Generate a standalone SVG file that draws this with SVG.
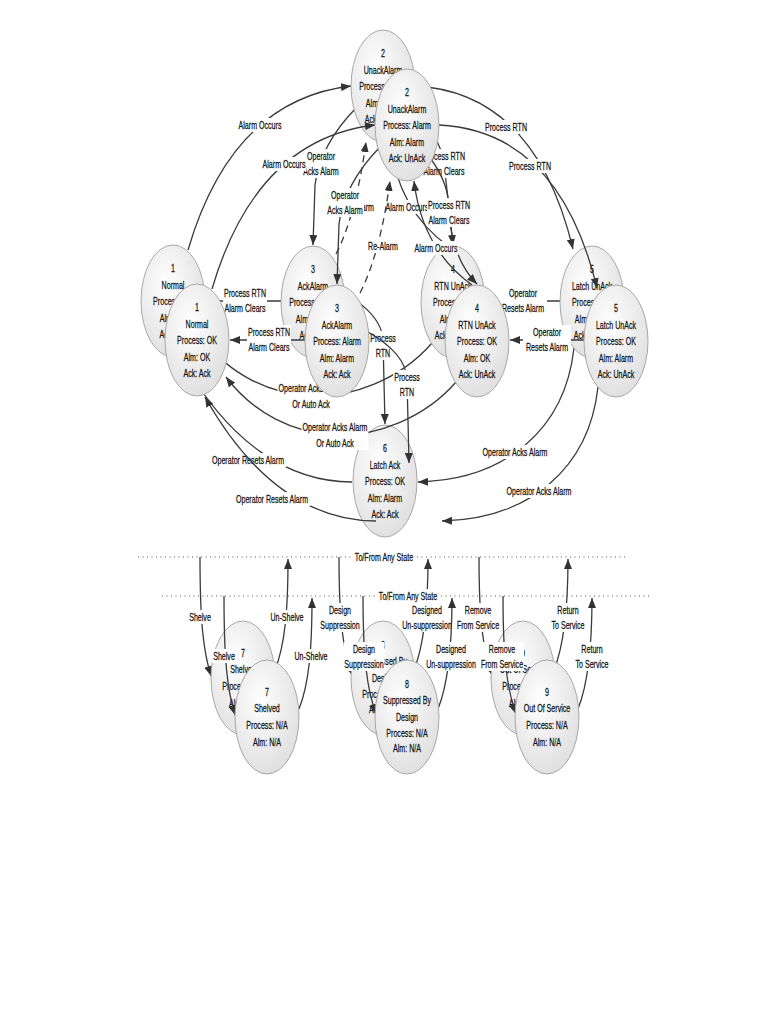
<svg xmlns="http://www.w3.org/2000/svg" width="768" height="1024" viewBox="0 0 768 1024">
<defs>
<radialGradient id="ng" cx="0.4" cy="0.35" r="0.75"><stop offset="0" stop-color="#ffffff"/><stop offset="1" stop-color="#dcdcdc"/></radialGradient>
<marker id="ah" viewBox="0 0 10 8" refX="10" refY="4" markerWidth="10" markerHeight="8" markerUnits="userSpaceOnUse" orient="auto"><path d="M0,0 L10,4 L0,8 z" fill="#333"/></marker>
<style>
.c{fill:none;stroke:#3a3a3a;stroke-width:1.3;marker-end:url(#ah)}
.d{stroke-dasharray:7 5}
.dot{fill:none;stroke:#555;stroke-width:1;stroke-dasharray:1 3.5}
.n ellipse{fill:url(#ng);stroke:#a8a8a8;stroke-width:1}
.t{font-family:"Liberation Sans",Arial,sans-serif;font-size:11px;fill:#111;stroke:#111;stroke-width:.25;text-anchor:middle}
.lb{fill:#fff}
</style>
</defs>
<rect width="768" height="1024" fill="#fff"/>

<g id="copy-back">
<g id="connectors-back">
<path class="c" d="M 188 250 Q 232 100 351 86"/>
<path class="c" d="M 415 86 Q 535 92 573 249"/>
<path class="c" d="M 356 108 Q 320 145 315 185 L 313 245"/>
<path class="c d" d="M 336 254 Q 356 215 366 142"/>
<path class="c" d="M 448 246 Q 398 210 390 142"/>
<path class="c" d="M 412 113 Q 440 135 444 163 L 453 245"/>
<path class="c" d="M 281 301 L 206 301"/>
<path class="c" d="M 344 293 C 365 305 382 320 383 340 L 385 424"/>
<path class="c" d="M 432 343 C 400 380 350 398 311 396 C 270 394 230 375 202 338"/>
<path class="c" d="M 560 301 L 486 301"/>
<path class="c" d="M 574 348 C 565 430 505 480 418 482"/>
<path class="c" d="M 352 482 C 290 482 230 445 181 358"/>
<path class="dot" d="M 138 557 H 626"/>
<path class="c" d="M 200 557 C 200 620 203 650 211 676"/>
<path class="c" d="M 275 670 C 285 645 288 610 288 559"/>
<path class="c" d="M 339 557 C 339 620 343 650 352 675"/>
<path class="c" d="M 414 670 C 424 645 428 610 428 559"/>
<path class="c" d="M 479 557 C 479 620 483 650 492 675"/>
<path class="c" d="M 554 670 C 564 645 568 610 568 559"/>
</g>
<g id="labels-back">
<rect class="lb" x="237.5" y="118" width="45" height="14"/><text class="t" transform="translate(260 129) scale(.645 1)">Alarm Occurs</text>
<rect class="lb" x="484" y="120" width="44" height="14"/><text class="t" transform="translate(506 131) scale(.645 1)">Process RTN</text>
<rect class="lb" x="302" y="149" width="38" height="29"/><text class="t" transform="translate(321 160) scale(.645 1)">Operator</text><text class="t" transform="translate(321 175) scale(.645 1)">Acks Alarm</text>
<rect class="lb" x="343" y="200" width="32" height="14"/><text class="t" transform="translate(359 211) scale(.645 1)">Re-Alarm</text>
<rect class="lb" x="384.5" y="200" width="45" height="14"/><text class="t" transform="translate(407 211) scale(.645 1)">Alarm Occurs</text>
<rect class="lb" x="422" y="149" width="44" height="29"/><text class="t" transform="translate(444 160) scale(.645 1)">Process RTN</text><text class="t" transform="translate(444 175) scale(.645 1)">Alarm Clears</text>
<rect class="lb" x="223" y="286" width="44" height="29"/><text class="t" transform="translate(245 297) scale(.645 1)">Process RTN</text><text class="t" transform="translate(245 312) scale(.645 1)">Alarm Clears</text>
<rect class="lb" x="369" y="331" width="28" height="29"/><text class="t" transform="translate(383 342) scale(.645 1)">Process</text><text class="t" transform="translate(383 357) scale(.645 1)">RTN</text>
<rect class="lb" x="277.5" y="381" width="67" height="30"/><text class="t" transform="translate(311 392) scale(.645 1)">Operator Acks Alarm</text><text class="t" transform="translate(311 408) scale(.645 1)">Or Auto Ack</text>
<rect class="lb" x="499" y="286" width="48" height="29"/><text class="t" transform="translate(523 297) scale(.645 1)">Operator</text><text class="t" transform="translate(523 312) scale(.645 1)">Resets Alarm</text>
<rect class="lb" x="481.5" y="445" width="67" height="14"/><text class="t" transform="translate(515 456) scale(.645 1)">Operator Acks Alarm</text>
<rect class="lb" x="209.5" y="453" width="77" height="14"/><text class="t" transform="translate(248 464) scale(.645 1)">Operator Resets Alarm</text>
<rect class="lb" x="353.5" y="550" width="61" height="14"/><text class="t" transform="translate(384 561) scale(.645 1)">To/From Any State</text>
<rect class="lb" x="188" y="610" width="24" height="14"/><text class="t" transform="translate(200 621) scale(.645 1)">Shelve</text>
<rect class="lb" x="269.5" y="610" width="35" height="14"/><text class="t" transform="translate(287 621) scale(.645 1)">Un-Shelve</text>
<rect class="lb" x="319.5" y="603" width="41" height="29"/><text class="t" transform="translate(340 614) scale(.645 1)">Design</text><text class="t" transform="translate(340 629) scale(.645 1)">Suppression</text>
<rect class="lb" x="401.5" y="603" width="51" height="29"/><text class="t" transform="translate(427 614) scale(.645 1)">Designed</text><text class="t" transform="translate(427 629) scale(.645 1)">Un-suppression</text>
<rect class="lb" x="456" y="603" width="44" height="29"/><text class="t" transform="translate(478 614) scale(.645 1)">Remove</text><text class="t" transform="translate(478 629) scale(.645 1)">From Service</text>
<rect class="lb" x="550" y="603" width="36" height="29"/><text class="t" transform="translate(568 614) scale(.645 1)">Return</text><text class="t" transform="translate(568 629) scale(.645 1)">To Service</text>
</g>
<g id="b1" class="n" transform="translate(173 301)"><ellipse rx="32" ry="56"/><text class="t" transform="translate(0 -29) scale(.645 1)">1</text><text class="t" transform="translate(0 -12.5) scale(.645 1)">Normal</text><text class="t" transform="translate(0 4) scale(.645 1)">Process: OK</text><text class="t" transform="translate(0 20.5) scale(.645 1)">Alm: OK</text><text class="t" transform="translate(0 37) scale(.645 1)">Ack: Ack</text></g>
<g id="b2" class="n" transform="translate(383 86)"><ellipse rx="32" ry="56"/><text class="t" transform="translate(0 -29) scale(.645 1)">2</text><text class="t" transform="translate(0 -12.5) scale(.645 1)">UnackAlarm</text><text class="t" transform="translate(0 4) scale(.645 1)">Process: Alarm</text><text class="t" transform="translate(0 20.5) scale(.645 1)">Alm: Alarm</text><text class="t" transform="translate(0 37) scale(.645 1)">Ack: UnAck</text></g>
<g id="b3" class="n" transform="translate(313 302)"><ellipse rx="32" ry="56"/><text class="t" transform="translate(0 -29) scale(.645 1)">3</text><text class="t" transform="translate(0 -12.5) scale(.645 1)">AckAlarm</text><text class="t" transform="translate(0 4) scale(.645 1)">Process: Alarm</text><text class="t" transform="translate(0 20.5) scale(.645 1)">Alm: Alarm</text><text class="t" transform="translate(0 37) scale(.645 1)">Ack: Ack</text></g>
<g id="b4" class="n" transform="translate(453 302)"><ellipse rx="32" ry="56"/><text class="t" transform="translate(0 -29) scale(.645 1)">4</text><text class="t" transform="translate(0 -12.5) scale(.645 1)">RTN UnAck</text><text class="t" transform="translate(0 4) scale(.645 1)">Process: OK</text><text class="t" transform="translate(0 20.5) scale(.645 1)">Alm: OK</text><text class="t" transform="translate(0 37) scale(.645 1)">Ack: UnAck</text></g>
<g id="b5" class="n" transform="translate(592 302)"><ellipse rx="32" ry="56"/><text class="t" transform="translate(0 -29) scale(.645 1)">5</text><text class="t" transform="translate(0 -12.5) scale(.645 1)">Latch UnAck</text><text class="t" transform="translate(0 4) scale(.645 1)">Process: OK</text><text class="t" transform="translate(0 20.5) scale(.645 1)">Alm: Alarm</text><text class="t" transform="translate(0 37) scale(.645 1)">Ack: UnAck</text></g>
<g id="b6" class="n" transform="translate(385 481)"><ellipse rx="32" ry="56"/><text class="t" transform="translate(0 -29) scale(.645 1)">6</text><text class="t" transform="translate(0 -12.5) scale(.645 1)">Latch Ack</text><text class="t" transform="translate(0 4) scale(.645 1)">Process: OK</text><text class="t" transform="translate(0 20.5) scale(.645 1)">Alm: Alarm</text><text class="t" transform="translate(0 37) scale(.645 1)">Ack: Ack</text></g>
<g id="b7" class="n" transform="translate(243 678)"><ellipse rx="32" ry="57"/><text class="t" transform="translate(0 -21) scale(.645 1)">7</text><text class="t" transform="translate(0 -5) scale(.645 1)">Shelved</text><text class="t" transform="translate(0 12) scale(.645 1)">Process: N/A</text><text class="t" transform="translate(0 29) scale(.645 1)">Alm: N/A</text></g>
<g id="b8" class="n" transform="translate(383 678)"><ellipse rx="32" ry="57"/><text class="t" transform="translate(0 -29) scale(.645 1)">8</text><text class="t" transform="translate(0 -13) scale(.645 1)">Suppressed By</text><text class="t" transform="translate(0 4) scale(.645 1)">Design</text><text class="t" transform="translate(0 20) scale(.645 1)">Process: N/A</text><text class="t" transform="translate(0 35) scale(.645 1)">Alm: N/A</text></g>
<g id="b9" class="n" transform="translate(523 678)"><ellipse rx="32" ry="57"/><text class="t" transform="translate(0 -21) scale(.645 1)">9</text><text class="t" transform="translate(0 -5) scale(.645 1)">Out Of Service</text><text class="t" transform="translate(0 12) scale(.645 1)">Process: N/A</text><text class="t" transform="translate(0 29) scale(.645 1)">Alm: N/A</text></g>
</g>

<g id="copy-front" transform="translate(24 39)">
<g id="connectors-front">
<path class="c" d="M 188 250 Q 232 100 351 86"/>
<path class="c" d="M 415 86 Q 535 92 573 249"/>
<path class="c" d="M 356 108 Q 320 145 315 185 L 313 245"/>
<path class="c d" d="M 336 254 Q 356 215 366 142"/>
<path class="c" d="M 448 246 Q 398 210 390 142"/>
<path class="c" d="M 406 119 Q 423 141 425 166 L 426 183 Q 431 223 453 245"/>
<path class="c" d="M 281 301 L 206 301"/>
<path class="c" d="M 344 293 C 365 305 382 320 383 340 L 385 424"/>
<path class="c" d="M 432 343 C 400 380 350 398 311 396 C 270 394 230 375 202 338"/>
<path class="c" d="M 560 301 L 486 301"/>
<path class="c" d="M 574 348 C 565 430 505 480 418 482"/>
<path class="c" d="M 352 482 C 290 482 230 445 181 358"/>
<path class="dot" d="M 138 557 H 626"/>
<path class="c" d="M 200 557 C 200 620 203 650 211 676"/>
<path class="c" d="M 275 670 C 285 645 288 610 288 559"/>
<path class="c" d="M 339 557 C 339 620 343 650 352 675"/>
<path class="c" d="M 414 670 C 424 645 428 610 428 559"/>
<path class="c" d="M 479 557 C 479 620 483 650 492 675"/>
<path class="c" d="M 554 670 C 564 645 568 610 568 559"/>
</g>
<g id="labels-front">
<rect class="lb" x="237.5" y="118" width="45" height="14"/><text class="t" transform="translate(260 129) scale(.645 1)">Alarm Occurs</text>
<rect class="lb" x="484" y="120" width="44" height="14"/><text class="t" transform="translate(506 131) scale(.645 1)">Process RTN</text>
<rect class="lb" x="302" y="149" width="38" height="29"/><text class="t" transform="translate(321 160) scale(.645 1)">Operator</text><text class="t" transform="translate(321 175) scale(.645 1)">Acks Alarm</text>
<rect class="lb" x="343" y="200" width="32" height="14"/><text class="t" transform="translate(359 211) scale(.645 1)">Re-Alarm</text>
<rect class="lb" x="389.5" y="202" width="45" height="14"/><text class="t" transform="translate(412 213) scale(.645 1)">Alarm Occurs</text>
<rect class="lb" x="403" y="159" width="44" height="29"/><text class="t" transform="translate(425 170) scale(.645 1)">Process RTN</text><text class="t" transform="translate(425 185) scale(.645 1)">Alarm Clears</text>
<rect class="lb" x="223" y="286" width="44" height="29"/><text class="t" transform="translate(245 297) scale(.645 1)">Process RTN</text><text class="t" transform="translate(245 312) scale(.645 1)">Alarm Clears</text>
<rect class="lb" x="369" y="331" width="28" height="29"/><text class="t" transform="translate(383 342) scale(.645 1)">Process</text><text class="t" transform="translate(383 357) scale(.645 1)">RTN</text>
<rect class="lb" x="277.5" y="381" width="67" height="30"/><text class="t" transform="translate(311 392) scale(.645 1)">Operator Acks Alarm</text><text class="t" transform="translate(311 408) scale(.645 1)">Or Auto Ack</text>
<rect class="lb" x="499" y="286" width="48" height="29"/><text class="t" transform="translate(523 297) scale(.645 1)">Operator</text><text class="t" transform="translate(523 312) scale(.645 1)">Resets Alarm</text>
<rect class="lb" x="481.5" y="445" width="67" height="14"/><text class="t" transform="translate(515 456) scale(.645 1)">Operator Acks Alarm</text>
<rect class="lb" x="209.5" y="453" width="77" height="14"/><text class="t" transform="translate(248 464) scale(.645 1)">Operator Resets Alarm</text>
<rect class="lb" x="353.5" y="550" width="61" height="14"/><text class="t" transform="translate(384 561) scale(.645 1)">To/From Any State</text>
<rect class="lb" x="188" y="610" width="24" height="14"/><text class="t" transform="translate(200 621) scale(.645 1)">Shelve</text>
<rect class="lb" x="269.5" y="610" width="35" height="14"/><text class="t" transform="translate(287 621) scale(.645 1)">Un-Shelve</text>
<rect class="lb" x="319.5" y="603" width="41" height="29"/><text class="t" transform="translate(340 614) scale(.645 1)">Design</text><text class="t" transform="translate(340 629) scale(.645 1)">Suppression</text>
<rect class="lb" x="401.5" y="603" width="51" height="29"/><text class="t" transform="translate(427 614) scale(.645 1)">Designed</text><text class="t" transform="translate(427 629) scale(.645 1)">Un-suppression</text>
<rect class="lb" x="456" y="603" width="44" height="29"/><text class="t" transform="translate(478 614) scale(.645 1)">Remove</text><text class="t" transform="translate(478 629) scale(.645 1)">From Service</text>
<rect class="lb" x="550" y="603" width="36" height="29"/><text class="t" transform="translate(568 614) scale(.645 1)">Return</text><text class="t" transform="translate(568 629) scale(.645 1)">To Service</text>
</g>
<g id="f1" class="n" transform="translate(173 301)"><ellipse rx="32" ry="56"/><text class="t" transform="translate(0 -29) scale(.645 1)">1</text><text class="t" transform="translate(0 -12.5) scale(.645 1)">Normal</text><text class="t" transform="translate(0 4) scale(.645 1)">Process: OK</text><text class="t" transform="translate(0 20.5) scale(.645 1)">Alm: OK</text><text class="t" transform="translate(0 37) scale(.645 1)">Ack: Ack</text></g>
<g id="f2" class="n" transform="translate(383 86)"><ellipse rx="32" ry="56"/><text class="t" transform="translate(0 -29) scale(.645 1)">2</text><text class="t" transform="translate(0 -12.5) scale(.645 1)">UnackAlarm</text><text class="t" transform="translate(0 4) scale(.645 1)">Process: Alarm</text><text class="t" transform="translate(0 20.5) scale(.645 1)">Alm: Alarm</text><text class="t" transform="translate(0 37) scale(.645 1)">Ack: UnAck</text></g>
<g id="f3" class="n" transform="translate(313 302)"><ellipse rx="32" ry="56"/><text class="t" transform="translate(0 -29) scale(.645 1)">3</text><text class="t" transform="translate(0 -12.5) scale(.645 1)">AckAlarm</text><text class="t" transform="translate(0 4) scale(.645 1)">Process: Alarm</text><text class="t" transform="translate(0 20.5) scale(.645 1)">Alm: Alarm</text><text class="t" transform="translate(0 37) scale(.645 1)">Ack: Ack</text></g>
<g id="f4" class="n" transform="translate(453 302)"><ellipse rx="32" ry="56"/><text class="t" transform="translate(0 -29) scale(.645 1)">4</text><text class="t" transform="translate(0 -12.5) scale(.645 1)">RTN UnAck</text><text class="t" transform="translate(0 4) scale(.645 1)">Process: OK</text><text class="t" transform="translate(0 20.5) scale(.645 1)">Alm: OK</text><text class="t" transform="translate(0 37) scale(.645 1)">Ack: UnAck</text></g>
<g id="f5" class="n" transform="translate(592 302)"><ellipse rx="32" ry="56"/><text class="t" transform="translate(0 -29) scale(.645 1)">5</text><text class="t" transform="translate(0 -12.5) scale(.645 1)">Latch UnAck</text><text class="t" transform="translate(0 4) scale(.645 1)">Process: OK</text><text class="t" transform="translate(0 20.5) scale(.645 1)">Alm: Alarm</text><text class="t" transform="translate(0 37) scale(.645 1)">Ack: UnAck</text></g>
<g id="f7" class="n" transform="translate(243 678)"><ellipse rx="32" ry="57"/><text class="t" transform="translate(0 -21) scale(.645 1)">7</text><text class="t" transform="translate(0 -5) scale(.645 1)">Shelved</text><text class="t" transform="translate(0 12) scale(.645 1)">Process: N/A</text><text class="t" transform="translate(0 29) scale(.645 1)">Alm: N/A</text></g>
<g id="f8" class="n" transform="translate(383 678)"><ellipse rx="32" ry="57"/><text class="t" transform="translate(0 -29) scale(.645 1)">8</text><text class="t" transform="translate(0 -13) scale(.645 1)">Suppressed By</text><text class="t" transform="translate(0 4) scale(.645 1)">Design</text><text class="t" transform="translate(0 20) scale(.645 1)">Process: N/A</text><text class="t" transform="translate(0 35) scale(.645 1)">Alm: N/A</text></g>
<g id="f9" class="n" transform="translate(523 678)"><ellipse rx="32" ry="57"/><text class="t" transform="translate(0 -21) scale(.645 1)">9</text><text class="t" transform="translate(0 -5) scale(.645 1)">Out Of Service</text><text class="t" transform="translate(0 12) scale(.645 1)">Process: N/A</text><text class="t" transform="translate(0 29) scale(.645 1)">Alm: N/A</text></g>
</g>
</svg>
